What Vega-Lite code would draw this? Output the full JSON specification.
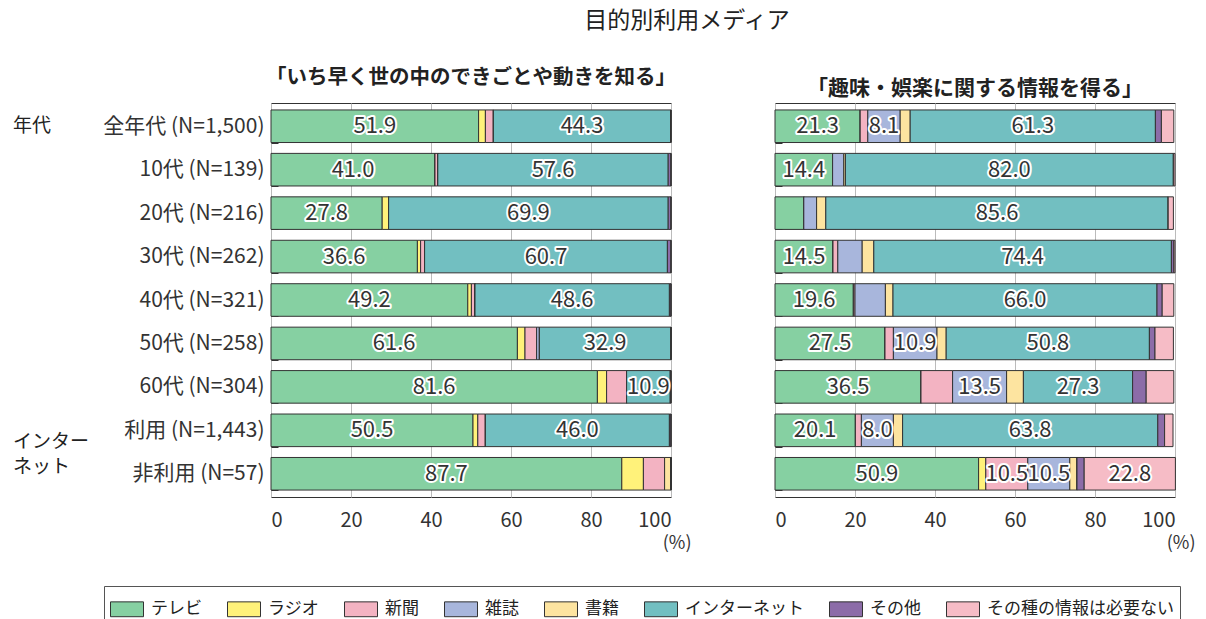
{
  "$schema": "https://vega.github.io/schema/vega-lite/v6.json",
  "background": "white",
  "padding": {"left": 12, "top": 10, "right": 10, "bottom": 0},
  "title": {"text": "目的別利用メディア", "fontSize": 23, "font": "Noto Sans CJK JP", "fontWeight": "normal", "color": "#222", "anchor": "middle", "offset": 34, "dx": 83},
  "config": {
    "font": "Noto Sans CJK JP",
    "view": {"stroke": "#333", "strokeWidth": 1},
    "axis": {"labelColor": "#333", "labelFont": "Noto Sans CJK JP", "titleFont": "Noto Sans CJK JP"}
  },
  "datasets": {
    "media": [
      {"panel": "L", "row": "全年代 (N=1,500)", "テレビ": 51.9, "ラジオ": 1.7, "新聞": 2.0, "雑誌": 0, "書籍": 0, "インターネット": 44.3, "その他": 0.1, "その種の情報は必要ない": 0},
      {"panel": "L", "row": "10代 (N=139)", "テレビ": 41.0, "ラジオ": 0, "新聞": 0.7, "雑誌": 0, "書籍": 0, "インターネット": 57.6, "その他": 0.7, "その種の情報は必要ない": 0},
      {"panel": "L", "row": "20代 (N=216)", "テレビ": 27.8, "ラジオ": 1.6, "新聞": 0, "雑誌": 0, "書籍": 0, "インターネット": 69.9, "その他": 0.7, "その種の情報は必要ない": 0},
      {"panel": "L", "row": "30代 (N=262)", "テレビ": 36.6, "ラジオ": 0.8, "新聞": 1.0, "雑誌": 0, "書籍": 0, "インターネット": 60.7, "その他": 0.9, "その種の情報は必要ない": 0},
      {"panel": "L", "row": "40代 (N=321)", "テレビ": 49.2, "ラジオ": 0.9, "新聞": 0.9, "雑誌": 0, "書籍": 0, "インターネット": 48.6, "その他": 0.4, "その種の情報は必要ない": 0},
      {"panel": "L", "row": "50代 (N=258)", "テレビ": 61.6, "ラジオ": 1.9, "新聞": 2.9, "雑誌": 0.7, "書籍": 0, "インターネット": 32.9, "その他": 0, "その種の情報は必要ない": 0},
      {"panel": "L", "row": "60代 (N=304)", "テレビ": 81.6, "ラジオ": 2.3, "新聞": 5.0, "雑誌": 0, "書籍": 0, "インターネット": 10.9, "その他": 0.2, "その種の情報は必要ない": 0},
      {"panel": "L", "row": "利用 (N=1,443)", "テレビ": 50.5, "ラジオ": 1.2, "新聞": 1.9, "雑誌": 0, "書籍": 0, "インターネット": 46.0, "その他": 0.4, "その種の情報は必要ない": 0},
      {"panel": "L", "row": "非利用 (N=57)", "テレビ": 87.7, "ラジオ": 5.4, "新聞": 5.3, "雑誌": 0, "書籍": 1.6, "インターネット": 0, "その他": 0, "その種の情報は必要ない": 0},
      {"panel": "R", "row": "全年代 (N=1,500)", "テレビ": 21.3, "ラジオ": 0, "新聞": 1.9, "雑誌": 8.1, "書籍": 2.5, "インターネット": 61.3, "その他": 1.5, "その種の情報は必要ない": 3.1},
      {"panel": "R", "row": "10代 (N=139)", "テレビ": 14.4, "ラジオ": 0, "新聞": 0, "雑誌": 2.8, "書籍": 0.4, "インターネット": 82.0, "その他": 0, "その種の情報は必要ない": 0.4},
      {"panel": "R", "row": "20代 (N=216)", "テレビ": 7.2, "ラジオ": 0, "新聞": 0, "雑誌": 3.2, "書籍": 2.3, "インターネット": 85.6, "その他": 0, "その種の情報は必要ない": 1.3},
      {"panel": "R", "row": "30代 (N=262)", "テレビ": 14.5, "ラジオ": 0, "新聞": 1.2, "雑誌": 6.1, "書籍": 2.9, "インターネット": 74.4, "その他": 0.6, "その種の情報は必要ない": 0.3},
      {"panel": "R", "row": "40代 (N=321)", "テレビ": 19.6, "ラジオ": 0, "新聞": 0.4, "雑誌": 7.6, "書籍": 1.9, "インターネット": 66.0, "その他": 1.3, "その種の情報は必要ない": 2.9},
      {"panel": "R", "row": "50代 (N=258)", "テレビ": 27.5, "ラジオ": 0, "新聞": 2.1, "雑誌": 10.9, "書籍": 2.3, "インターネット": 50.8, "その他": 1.4, "その種の情報は必要ない": 4.6},
      {"panel": "R", "row": "60代 (N=304)", "テレビ": 36.5, "ラジオ": 0, "新聞": 7.9, "雑誌": 13.5, "書籍": 4.2, "インターネット": 27.3, "その他": 3.4, "その種の情報は必要ない": 6.9},
      {"panel": "R", "row": "利用 (N=1,443)", "テレビ": 20.1, "ラジオ": 0, "新聞": 1.5, "雑誌": 8.0, "書籍": 2.3, "インターネット": 63.8, "その他": 1.7, "その種の情報は必要ない": 2.1},
      {"panel": "R", "row": "非利用 (N=57)", "テレビ": 50.9, "ラジオ": 1.8, "新聞": 10.5, "雑誌": 10.5, "書籍": 1.8, "インターネット": 0, "その他": 1.8, "その種の情報は必要ない": 22.8}
    ],
    "groups": [
      {"row": "全年代 (N=1,500)", "label": "年代"},
      {"row": "利用 (N=1,443)", "label": "インター\nネット"}
    ]
  },
  "spacing": 82,
  "hconcat": [
    {
      "width": 400,
      "height": 394,
      "title": {"text": "「いち早く世の中のできごとや動きを知る」", "frame": "group", "anchor": "middle", "fontSize": 20.5, "fontWeight": "bold", "color": "#222", "offset": 4},
      "layer": [
        {
          "data": {"name": "media"},
          "transform": [
            {"filter": "datum.panel === 'L'"},
            {"fold": ["テレビ", "ラジオ", "新聞", "雑誌", "書籍", "インターネット", "その他", "その種の情報は必要ない"], "as": ["key", "value"]},
            {"calculate": "indexof(['テレビ','ラジオ','新聞','雑誌','書籍','インターネット','その他','その種の情報は必要ない'], datum.key)", "as": "o"},
            {"stack": "value", "groupby": ["row"], "sort": [{"field": "o", "order": "ascending"}], "as": ["x0", "x1"]},
            {"calculate": "(datum.x0 + datum.x1) / 2", "as": "mid"}
          ],
          "layer": [
            {
              "mark": {"type": "bar", "stroke": "#333", "strokeWidth": 1},
              "encoding": {
                "y": {"field": "row", "type": "nominal", "sort": ["全年代 (N=1,500)", "10代 (N=139)", "20代 (N=216)", "30代 (N=262)", "40代 (N=321)", "50代 (N=258)", "60代 (N=304)", "利用 (N=1,443)", "非利用 (N=57)"], "scale": {"paddingInner": 0.25, "paddingOuter": 0.16}, "title": null,
                  "axis": {"labelFontSize": 21, "labelPadding": 14, "tickSize": -7, "tickBand": "extent", "tickColor": "#333", "domain": false, "grid": false, "labelColor": "#333"}},
                "x": {"field": "x0", "type": "quantitative", "scale": {"domain": [0, 100]}, "title": "(%)",
                  "axis": {"values": [0, 20, 40, 60, 80, 100], "grid": true, "gridColor": "#bbb", "ticks": false, "domain": false, "labelFontSize": 20, "labelPadding": 13, "titleFontWeight": "normal", "titleFontSize": 18, "titleColor": "#333", "titleAlign": "right", "titleAnchor": "end", "titleX": 420, "titlePadding": 4}},
                "x2": {"field": "x1"},
                "color": {"field": "key", "type": "nominal",
                  "scale": {"domain": ["テレビ", "ラジオ", "新聞", "雑誌", "書籍", "インターネット", "その他", "その種の情報は必要ない"], "range": ["#86d0a2", "#fff27a", "#f3b3c2", "#a8b6dc", "#fde4a0", "#72bfc1", "#8c6ca8", "#f6bcc6"]},
                  "legend": {"title": null, "orient": "none", "legendX": -167, "legendY": 483, "direction": "horizontal", "columns": 8, "symbolType": "M-1,-0.45H1V0.45H-1Z", "symbolSize": 1089, "symbolStrokeColor": "#333", "symbolStrokeWidth": 1, "labelFontSize": 17, "labelLimit": 400, "labelColor": "#222", "strokeColor": "#555", "padding": 6, "columnPadding": 23, "labelOffset": 7, "symbolOpacity": 1}}
              }
            },
            {
              "transform": [{"filter": "datum.value >= 8"}],
              "mark": {"type": "text", "fontSize": 22, "stroke": "white", "strokeWidth": 4, "strokeJoin": "round", "fill": "white"},
              "encoding": {
                "y": {"field": "row", "type": "nominal", "sort": ["全年代 (N=1,500)", "10代 (N=139)", "20代 (N=216)", "30代 (N=262)", "40代 (N=321)", "50代 (N=258)", "60代 (N=304)", "利用 (N=1,443)", "非利用 (N=57)"]},
                "x": {"field": "mid", "type": "quantitative"},
                "text": {"field": "value", "type": "quantitative", "format": ".1f"}
              }
            },
            {
              "transform": [{"filter": "datum.value >= 8"}],
              "mark": {"type": "text", "fontSize": 22, "fill": "#333"},
              "encoding": {
                "y": {"field": "row", "type": "nominal", "sort": ["全年代 (N=1,500)", "10代 (N=139)", "20代 (N=216)", "30代 (N=262)", "40代 (N=321)", "50代 (N=258)", "60代 (N=304)", "利用 (N=1,443)", "非利用 (N=57)"]},
                "x": {"field": "mid", "type": "quantitative"},
                "text": {"field": "value", "type": "quantitative", "format": ".1f"}
              }
            }
          ]
        },
        {
          "data": {"name": "groups"},
          "transform": [{"filter": "datum.label === '年代'"}],
          "mark": {"type": "text", "align": "left", "baseline": "middle", "fontSize": 19, "fill": "#222"},
          "encoding": {
            "y": {"field": "row", "type": "nominal", "sort": ["全年代 (N=1,500)", "10代 (N=139)", "20代 (N=216)", "30代 (N=262)", "40代 (N=321)", "50代 (N=258)", "60代 (N=304)", "利用 (N=1,443)", "非利用 (N=57)"]},
            "x": {"datum": -64.5},
            "text": {"field": "label"}
          }
        },
        {
          "data": {"name": "groups"},
          "transform": [{"filter": "datum.label !== '年代'"}],
          "mark": {"type": "text", "align": "left", "baseline": "middle", "fontSize": 19, "fill": "#222", "lineBreak": "\n", "lineHeight": 25, "dy": 12},
          "encoding": {
            "y": {"field": "row", "type": "nominal", "sort": ["全年代 (N=1,500)", "10代 (N=139)", "20代 (N=216)", "30代 (N=262)", "40代 (N=321)", "50代 (N=258)", "60代 (N=304)", "利用 (N=1,443)", "非利用 (N=57)"]},
            "x": {"datum": -64.5},
            "text": {"field": "label"}
          }
        }
      ]
    },
    {
      "width": 400,
      "height": 394,
      "title": {"text": "「趣味・娯楽に関する情報を得る」", "frame": "group", "anchor": "middle", "fontSize": 21, "fontWeight": "bold", "color": "#222", "offset": 4},
      "data": {"name": "media"},
      "transform": [
        {"filter": "datum.panel === 'R'"},
        {"fold": ["テレビ", "ラジオ", "新聞", "雑誌", "書籍", "インターネット", "その他", "その種の情報は必要ない"], "as": ["key", "value"]},
        {"calculate": "indexof(['テレビ','ラジオ','新聞','雑誌','書籍','インターネット','その他','その種の情報は必要ない'], datum.key)", "as": "o"},
        {"stack": "value", "groupby": ["row"], "sort": [{"field": "o", "order": "ascending"}], "as": ["x0", "x1"]},
        {"calculate": "(datum.x0 + datum.x1) / 2", "as": "mid"}
      ],
      "layer": [
        {
          "mark": {"type": "bar", "stroke": "#333", "strokeWidth": 1},
          "encoding": {
            "y": {"field": "row", "type": "nominal", "sort": ["全年代 (N=1,500)", "10代 (N=139)", "20代 (N=216)", "30代 (N=262)", "40代 (N=321)", "50代 (N=258)", "60代 (N=304)", "利用 (N=1,443)", "非利用 (N=57)"], "scale": {"paddingInner": 0.25, "paddingOuter": 0.16}, "title": null,
              "axis": {"labels": false, "tickSize": -7, "tickBand": "extent", "tickColor": "#333", "domain": false, "grid": false}},
            "x": {"field": "x0", "type": "quantitative", "scale": {"domain": [0, 100]}, "title": "(%)",
              "axis": {"values": [0, 20, 40, 60, 80, 100], "grid": true, "gridColor": "#bbb", "ticks": false, "domain": false, "labelFontSize": 20, "labelPadding": 13, "titleFontWeight": "normal", "titleFontSize": 18, "titleColor": "#333", "titleAlign": "right", "titleAnchor": "end", "titleX": 420, "titlePadding": 4}},
            "x2": {"field": "x1"},
            "color": {"field": "key", "type": "nominal",
              "scale": {"domain": ["テレビ", "ラジオ", "新聞", "雑誌", "書籍", "インターネット", "その他", "その種の情報は必要ない"], "range": ["#86d0a2", "#fff27a", "#f3b3c2", "#a8b6dc", "#fde4a0", "#72bfc1", "#8c6ca8", "#f6bcc6"]}}
          }
        },
        {
          "transform": [{"filter": "datum.value >= 8"}],
          "mark": {"type": "text", "fontSize": 22, "stroke": "white", "strokeWidth": 4, "strokeJoin": "round", "fill": "white"},
          "encoding": {
            "y": {"field": "row", "type": "nominal", "sort": ["全年代 (N=1,500)", "10代 (N=139)", "20代 (N=216)", "30代 (N=262)", "40代 (N=321)", "50代 (N=258)", "60代 (N=304)", "利用 (N=1,443)", "非利用 (N=57)"]},
            "x": {"field": "mid", "type": "quantitative"},
            "text": {"field": "value", "type": "quantitative", "format": ".1f"}
          }
        },
        {
          "transform": [{"filter": "datum.value >= 8"}],
          "mark": {"type": "text", "fontSize": 22, "fill": "#333"},
          "encoding": {
            "y": {"field": "row", "type": "nominal", "sort": ["全年代 (N=1,500)", "10代 (N=139)", "20代 (N=216)", "30代 (N=262)", "40代 (N=321)", "50代 (N=258)", "60代 (N=304)", "利用 (N=1,443)", "非利用 (N=57)"]},
            "x": {"field": "mid", "type": "quantitative"},
            "text": {"field": "value", "type": "quantitative", "format": ".1f"}
          }
        }
      ]
    }
  ]
}
